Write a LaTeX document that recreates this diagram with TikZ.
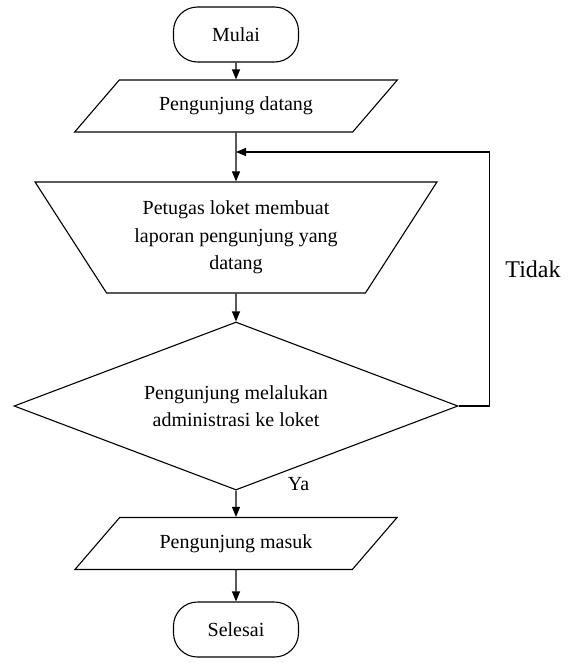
\documentclass[tikz,border=0pt]{standalone}
\usepackage{fontspec}
\setmainfont{Liberation Serif}
\newfontfamily\timesfont{Liberation Serif}
\usetikzlibrary{arrows.meta,shapes.geometric,positioning}

\begin{document}
\begin{tikzpicture}[node distance = 2cm, >={Triangle[length=10pt,width=8pt]}, line width=1.1pt,
    every node/.style={font=\timesfont\fontsize{20pt}{27.5pt}\selectfont}]
    \tikzstyle{terminal}=[rectangle,rounded corners=24pt,draw,minimum width=125pt,minimum height=55pt]  % 开始/结束块
    \tikzstyle{io}=[trapezium,trapezium left angle=39,trapezium right angle=141,trapezium stretches=true,draw,minimum width=323pt,minimum height=52pt]  % 输入输出:平行四边形
    \tikzstyle{manual}=[trapezium,trapezium left angle=54,trapezium right angle=54,shape border rotate=180,trapezium stretches=true,draw,minimum width=404pt,minimum height=111pt,align=center]  % 倒梯形
    \tikzstyle{test}=[diamond,aspect=2.64,draw,minimum width=444pt,minimum height=168pt,align=center,inner sep=0pt]  % 条件块
    \tikzstyle{point}=[coordinate,on grid]  % 连接点

    \useasboundingbox (0,0) rectangle (571pt,-664pt);

    % 定义节点
    \node[terminal](mulai) at (236pt,-34.5pt){Mulai};
    \node[io,below of=mulai,node distance=71.5pt](datang){Pengunjung datang};
    \node[point,below of=datang,node distance=46pt](join){};
    \node[manual,below of=datang,node distance=131.5pt](lapor){Petugas loket membuat\\laporan pengunjung yang\\datang};
    \node[test,below of=lapor,node distance=168.5pt](admin){Pengunjung melalukan\\administrasi ke loket};
    \node[io,below of=admin,node distance=137.5pt](masuk){Pengunjung masuk};
    \node[terminal,below of=masuk,node distance=86pt](selesai){Selesai};
    % 开始画线
    \draw[->](mulai)--(datang);
    \draw[->](datang)--(lapor);
    \draw[->](lapor)--(admin);
    \draw[->](admin)--node[at start,right,xshift=48pt,yshift=7pt]{Ya}(masuk);
    \draw[->](masuk)--(selesai);
    \draw[->](admin.east) -- ++(31pt,0) |- node[right,pos=0.27,xshift=12pt,font=\timesfont\fontsize{24pt}{28pt}\selectfont]{Tidak}(join);
\end{tikzpicture}
\end{document}
